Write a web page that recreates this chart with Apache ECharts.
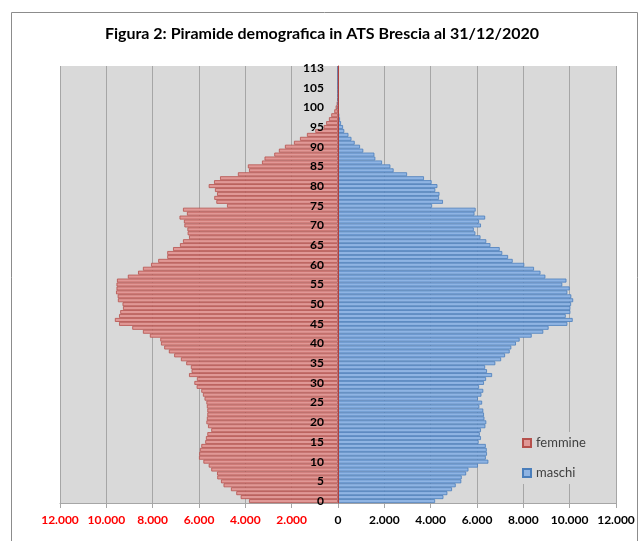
<!DOCTYPE html>
<html>
<head>
    <meta charset="UTF-8">
    <title>Piramide demografica ATS Brescia</title>
    <script src="https://cdn.jsdelivr.net/npm/echarts@6/dist/echarts.min.js"></script>
    <style>
        html, body { margin: 0; padding: 0; background: #fff; }
        #chart { width: 644px; height: 541px; }
    </style>
</head>
<body>
    <div id="chart"></div>
    <script>
        // età (categorie): 0..109 e 113
        const eta = ['0','1','2','3','4','5','6','7','8','9',
            '10','11','12','13','14','15','16','17','18','19',
            '20','21','22','23','24','25','26','27','28','29',
            '30','31','32','33','34','35','36','37','38','39',
            '40','41','42','43','44','45','46','47','48','49',
            '50','51','52','53','54','55','56','57','58','59',
            '60','61','62','63','64','65','66','67','68','69',
            '70','71','72','73','74','75','76','77','78','79',
            '80','81','82','83','84','85','86','87','88','89',
            '90','91','92','93','94','95','96','97','98','99',
            '100','101','102','103','104','105','106','107','108','109',
            '113'];

        // femmine per età
        const femmine = [3840, 4200, 4390, 4620, 4940, 5050, 5210, 5220, 5470, 5580,
            5810, 6000, 5990, 5960, 5900, 5730, 5700, 5640, 5470, 5610,
            5680, 5660, 5640, 5640, 5660, 5680, 5760, 5830, 5900, 6100,
            6200, 6090, 6430, 6320, 6350, 6550, 6780, 7070, 7300, 7500,
            7640, 7670, 8120, 8420, 8880, 9450, 9630, 9450, 9400, 9280,
            9300, 9500, 9510, 9580, 9560, 9560, 9540, 9070, 8630, 8420,
            8070, 7760, 7370, 7370, 7120, 6820, 6690, 6430, 6490, 6500,
            6630, 6650, 6840, 6520, 6690, 4790, 5250, 5340, 5220, 5310,
            5580, 5350, 5090, 4320, 3840, 3890, 3280, 3170, 2750, 2550,
            2290, 1900, 1640, 1340, 980, 620, 510, 390, 290, 160,
            100, 55, 30, 15, 8, 5, 3, 2, 1, 1,
            1];

        // maschi per età
        const maschi = [4190, 4550, 4720, 4920, 5080, 5320, 5340, 5530, 5630, 6040,
            6490, 6380, 6430, 6420, 6380, 6070, 6170, 6120, 6170, 6360,
            6400, 6320, 6300, 6270, 6100, 6220, 6040, 6190, 6270, 6090,
            6300, 6390, 6650, 6430, 6350, 6790, 7040, 7210, 7410, 7480,
            7680, 7840, 8360, 8860, 9090, 9900, 10130, 9830, 10030, 10030,
            10060, 10150, 10070, 9900, 10000, 9680, 9860, 8950, 8740, 8460,
            8040, 7540, 7340, 7090, 6980, 6580, 6400, 6150, 5930, 5860,
            6170, 6090, 6350, 5890, 5940, 4060, 4530, 4360, 4380, 4200,
            4290, 4040, 3710, 2980, 2400, 2260, 1900, 1610, 1570, 1090,
            950, 720, 580, 450, 270, 216, 130, 86, 58, 40,
            25, 15, 8, 5, 3, 2, 1, 1, 1, 1,
            1];

        const chart = echarts.init(document.getElementById('chart'));

        // numeri con il punto come separatore delle migliaia
        function fmt(v) {
            return String(Math.abs(v)).replace(/\B(?=(\d{3})+(?!\d))/g, '.');
        }

        const option = {
            backgroundColor: '#ffffff',
            animation: false,
            textStyle: { fontFamily: 'Lato' },
            title: {
                text: 'Figura 2: Piramide demografica in ATS Brescia al 31/12/2020',
                left: 'center',
                top: 21,
                textStyle: { fontFamily: 'Lato', fontSize: 16, fontWeight: 'bold', color: '#000' }
            },
            graphic: [{
                type: 'rect',
                shape: { x: 11.5, y: 12.5, width: 626, height: 560 },
                style: { fill: 'none', stroke: '#8c8c8c', lineWidth: 1 },
                silent: true
            }],
            legend: {
                orient: 'vertical',
                left: 518,
                top: 432,
                data: ['femmine', 'maschi'],
                icon: 'rect',
                itemWidth: 8,
                itemHeight: 8,
                itemGap: 16,
                backgroundColor: '#d9d9d9',
                padding: [4, 6, 4, 4],
                textStyle: { fontFamily: 'Lato', fontSize: 13, color: '#404040', lineHeight: 14 }
            },
            grid: {
                left: 60,
                right: 28,
                top: 66,
                bottom: 38,
                show: true,
                backgroundColor: '#d9d9d9',
                borderWidth: 0
            },
            xAxis: {
                type: 'value',
                min: -12000,
                max: 12000,
                interval: 2000,
                axisLine: { show: true, lineStyle: { color: '#a6a6a6' } },
                axisTick: { show: true, length: 5, lineStyle: { color: '#a6a6a6' } },
                splitLine: { show: true, lineStyle: { color: '#a6a6a6' } },
                axisLabel: {
                    margin: 11,
                    formatter: function (v) {
                        return v < 0 ? '{r|' + fmt(v) + '}' : '{k|' + fmt(v) + '}';
                    },
                    rich: {
                        r: { color: '#ff0000', fontFamily: 'Lato', fontSize: 12, fontWeight: 'bold' },
                        k: { color: '#000000', fontFamily: 'Lato', fontSize: 12, fontWeight: 'bold' }
                    }
                }
            },
            yAxis: {
                type: 'category',
                data: eta,
                z: 10,
                position: 'left',
                offset: -278,
                axisLine: { onZero: false, lineStyle: { color: '#b0403c' } },
                axisTick: { show: false },
                splitLine: { show: false },
                axisLabel: {
                    interval: 4,
                    margin: 14,
                    color: '#000',
                    fontFamily: 'Lato',
                    fontSize: 12,
                    fontWeight: 'bold'
                }
            },
            series: [
                {
                    name: 'femmine',
                    type: 'bar',
                    data: femmine.map(v => -v),
                    barGap: '-100%',
                    barCategoryGap: '0%',
                    itemStyle: { color: '#e09896', borderColor: '#b5504c', borderWidth: 0.8 }
                },
                {
                    name: 'maschi',
                    type: 'bar',
                    data: maschi,
                    barGap: '-100%',
                    barCategoryGap: '0%',
                    itemStyle: { color: '#8fb4e3', borderColor: '#4a7ebb', borderWidth: 0.8 }
                }
            ]
        };

        chart.setOption(option);
    </script>
</body>
</html>
